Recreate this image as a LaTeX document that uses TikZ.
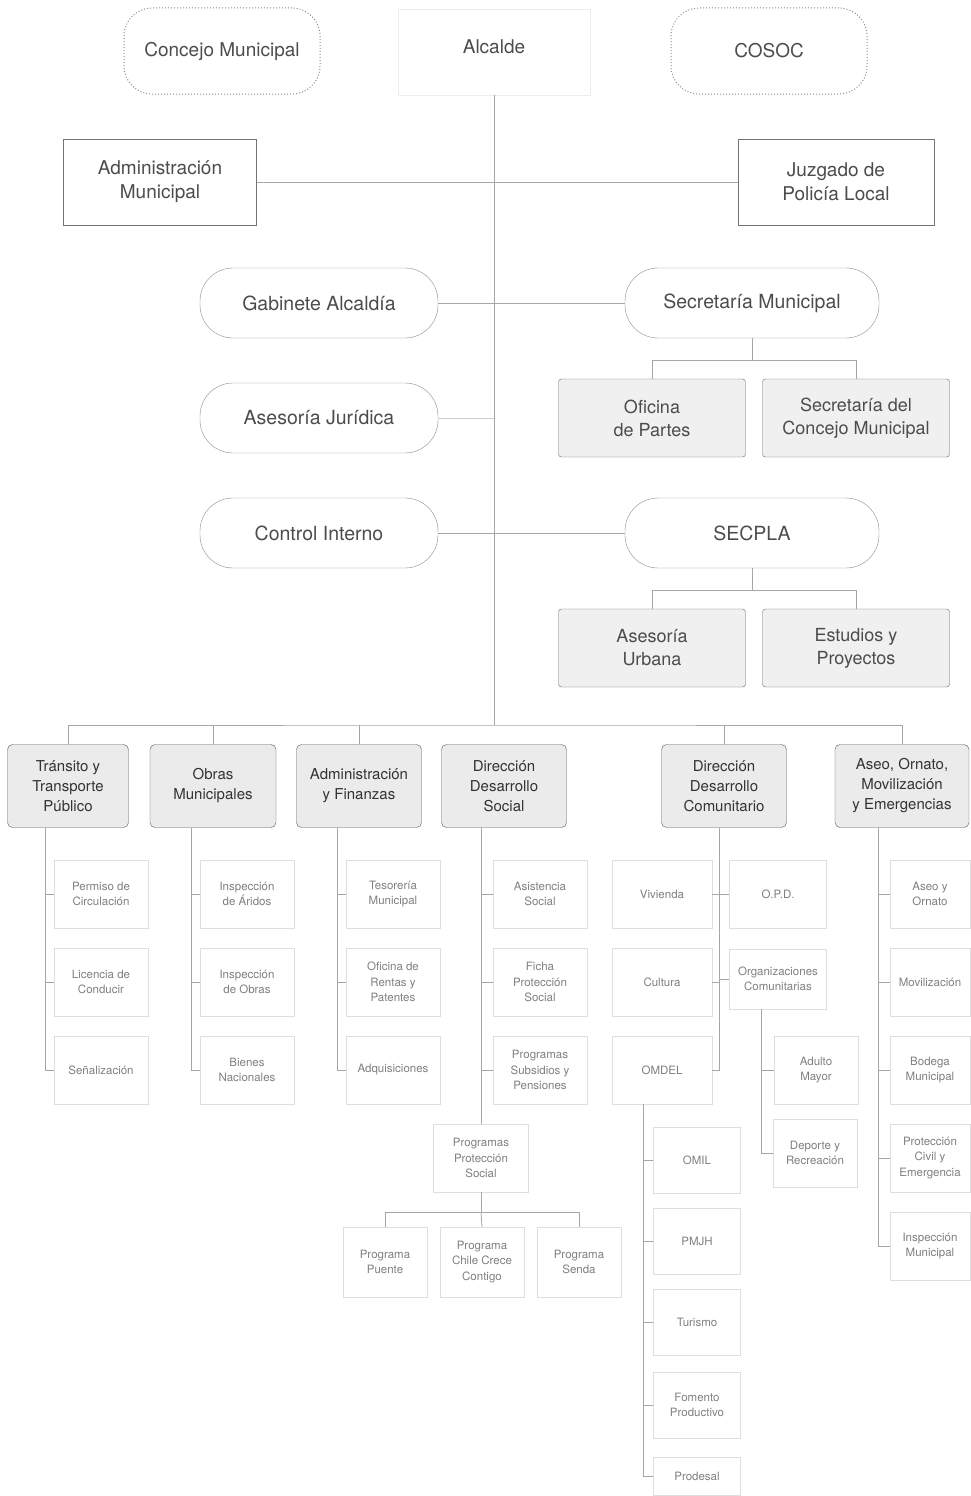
\documentclass[tikz,border=0pt]{standalone}
\usepackage{fontspec}
\setmainfont{TeX Gyre Heros}
\usetikzlibrary{arrows.meta,calc,positioning}

\begin{document}
\begin{tikzpicture}[x=1pt,y=-1pt,
    txt/.style={text=black!70,align=center},
    head/.style={txt,font=\fontsize{19}{24}\selectfont,minimum height=86pt},
    side/.style={head,draw=black!45,dotted,line width=1pt,rounded corners=28pt,minimum width=196pt},
    mainbox/.style={head,draw=black!55,fill=white,minimum width=193pt},
    pill/.style={txt,draw=black!45,fill=white,rounded corners=33pt,font=\fontsize{19.5}{24}\selectfont,minimum width=238pt,minimum height=70pt},
    unitbox/.style={txt,draw=black!60,fill=black!6,rounded corners=3pt,font=\fontsize{18}{23}\selectfont,minimum width=187pt,minimum height=78pt},
    dept/.style={txt,text=black!80,draw=black!65,fill=black!8,rounded corners=5pt,font=\fontsize{15}{20}\selectfont,minimum height=83pt,inner sep=2pt},
    sub/.style={align=center,text=black!50,draw=black!13,fill=white,font=\fontsize{11.5}{15.5}\selectfont,minimum width=94pt,minimum height=68pt,inner sep=2pt},
    link/.style={draw=black!35,line width=0.8pt}]
  \useasboundingbox (0,0) rectangle (971,1496);
  \node[side] (concejo) at (222,51) {Concejo Municipal};
  \node[head,draw=black!7,minimum width=192pt,text depth=10pt] (alcalde) at (494,52) {Alcalde};
  \node[side] (cosoc) at (769,51) {COSOC};
  \node[mainbox] (admmun) at (160,182) {Administración\\Municipal};
  \node[mainbox,minimum width=196pt] (juzgado) at (836,182) {Juzgado de\\Policía Local};
  \coordinate (bus) at (494,725);
  \draw[link] (alcalde) -- (bus);
  \draw[link] (admmun) -- (juzgado);

  \node[pill] (gabinete) at (319,303) {Gabinete Alcaldía};
  \node[pill,minimum width=254pt] (secmun) at (752,303) {Secretaría Municipal};
  \node[pill] (asejur) at (319,418) {Asesoría Jurídica};
  \node[unitbox] (partes) at (652,418) {Oficina\\de Partes};
  \node[unitbox] (secconc) at (856,418) {Secretaría del\\Concejo Municipal};
  \node[pill] (control) at (319,533) {Control Interno};
  \node[pill,minimum width=254pt] (secpla) at (752,533) {SECPLA};
  \node[unitbox] (urbana) at (652,648) {Asesoría\\Urbana};
  \node[unitbox] (estudios) at (856,648) {Estudios y\\Proyectos};
  \draw[link] (gabinete) -- (secmun);
  \draw[link,draw=black!20] (asejur.east) -- (asejur.east -| bus);
  \draw[link] (control) -- (secpla);
  \draw[link] (secmun.south) -- ++(0,22) coordinate (smfork);
  \draw[link] (partes.north) |- (smfork) -| (secconc.north);
  \draw[link] (secpla.south) -- ++(0,22) coordinate (spfork);
  \draw[link] (urbana.north) |- (spfork) -| (estudios.north);

  \node[dept,minimum width=121pt] (transito) at (68,786) {Tránsito y\\Transporte\\Público};
  \node[dept,minimum width=126pt] (obras) at (213,786) {Obras\\Municipales};
  \node[dept,minimum width=125pt] (finanzas) at (359,786) {Administración\\y Finanzas};
  \node[dept,minimum width=125pt] (dsocial) at (504,786) {Dirección\\Desarrollo\\Social};
  \node[dept,minimum width=125pt] (dcomun) at (724,786) {Dirección\\Desarrollo\\Comunitario};
  \node[dept,minimum width=134pt] (aseo) at (902,786) {Aseo, Ornato,\\Movilización\\y Emergencias};
  \draw[link] (transito.north) |- (bus) -| (aseo.north);
  \foreach \d in {obras,finanzas,dcomun}
    \draw[link] (\d.north) -- (\d.north |- bus);

  \node[sub] (permiso) at (101,894) {Permiso de\\Circulación};
  \node[sub] (licencia) at (101,982) {Licencia de\\Conducir};
  \node[sub] (senal) at (101,1070) {Señalización};
  \node[sub] (aridos) at (247,894) {Inspección\\de Áridos};
  \node[sub] (inspobras) at (247,982) {Inspección\\de Obras};
  \node[sub] (bienes) at (247,1070) {Bienes\\Nacionales};
  \node[sub] (tesoreria) at (393,894) {Tesorería\\Municipal};
  \node[sub] (rentas) at (393,982) {Oficina de\\Rentas y\\Patentes};
  \node[sub] (adquis) at (393,1070) {Adquisiciones};
  \node[sub] (asistencia) at (540,894) {Asistencia\\Social};
  \node[sub] (ficha) at (540,982) {Ficha\\Protección\\Social};
  \node[sub] (subsidios) at (540,1070) {Programas\\Subsidios y\\Pensiones};
  \node[sub,minimum width=95pt] (protsoc) at (481,1158) {Programas\\Protección\\Social};
  \node[sub,minimum width=84pt,minimum height=70pt] (puente) at (385,1262) {Programa\\Puente};
  \node[sub,minimum width=84pt,minimum height=70pt] (chcc) at (482,1262) {Programa\\Chile Crece\\Contigo};
  \node[sub,minimum width=84pt,minimum height=70pt] (senda) at (579,1262) {Programa\\Senda};
  \node[sub,minimum width=100pt] (vivienda) at (662,894) {Vivienda};
  \node[sub,minimum width=100pt] (cultura) at (662,982) {Cultura};
  \node[sub,minimum width=100pt] (omdel) at (662,1070) {OMDEL};
  \node[sub,minimum width=97pt] (opd) at (778,894) {O.P.D.};
  \node[sub,minimum width=97pt,minimum height=60pt] (orgcom) at (778,979) {Organizaciones\\Comunitarias};
  \node[sub,minimum width=84pt] (adulto) at (816,1070) {Adulto\\Mayor};
  \node[sub,minimum width=84pt] (deporte) at (815,1153) {Deporte y\\Recreación};
  \node[sub,minimum width=87pt,minimum height=66pt] (omil) at (697,1160) {OMIL};
  \node[sub,minimum width=87pt,minimum height=66pt] (pmjh) at (697,1241) {PMJH};
  \node[sub,minimum width=87pt,minimum height=66pt] (turismo) at (697,1322) {Turismo};
  \node[sub,minimum width=87pt,minimum height=66pt] (fomento) at (697,1405) {Fomento\\Productivo};
  \node[sub,minimum width=87pt,minimum height=38pt] (prodesal) at (697,1476) {Prodesal};
  \node[sub,minimum width=80pt] (aseoorn) at (930,894) {Aseo y\\Ornato};
  \node[sub,minimum width=80pt] (movil) at (930,982) {Movilización};
  \node[sub,minimum width=80pt] (bodega) at (930,1070) {Bodega\\Municipal};
  \node[sub,minimum width=80pt] (proteccion) at (930,1158) {Protección\\Civil y\\Emergencia};
  \node[sub,minimum width=80pt] (inspmun) at (930,1246) {Inspección\\Municipal};

  \coordinate (tsp) at ($(transito.south)+(-23,0)$);
  \coordinate (osp) at ($(obras.south)+(-22,0)$);
  \coordinate (fsp) at ($(finanzas.south)+(-22,0)$);
  \coordinate (ssp) at (protsoc.north |- dsocial.south);
  \coordinate (csp) at ($(dcomun.south)+(-5,0)$);
  \coordinate (gsp) at ($(orgcom.south)+(-17,0)$);
  \coordinate (msp) at ($(omdel.south)+(-19,0)$);
  \coordinate (asp) at ($(aseo.south)+(-24,0)$);
  \foreach \s in {permiso,licencia,senal} \draw[link] (tsp) |- (\s.west);
  \foreach \s in {aridos,inspobras,bienes} \draw[link] (osp) |- (\s.west);
  \foreach \s in {tesoreria,rentas,adquis} \draw[link] (fsp) |- (\s.west);
  \foreach \s in {asistencia,ficha,subsidios} \draw[link] (ssp) |- (\s.west);
  \draw[link] (ssp) -- (protsoc.north);
  \draw[link] (protsoc.south) -- ++(0,20) coordinate (psfork);
  \draw[link] (puente.north) |- (psfork) -| (senda.north);
  \draw[link] (psfork) -- (chcc.north);
  \foreach \s in {vivienda,cultura,omdel} \draw[link] (csp) |- (\s.east);
  \foreach \s in {opd,orgcom} \draw[link] (csp) |- (\s.west);
  \foreach \s in {adulto,deporte} \draw[link] (gsp) |- (\s.west);
  \foreach \s in {omil,pmjh,turismo,fomento,prodesal} \draw[link] (msp) |- (\s.west);
  \foreach \s in {aseoorn,movil,bodega,proteccion,inspmun} \draw[link] (asp) |- (\s.west);
\end{tikzpicture}
\end{document}
